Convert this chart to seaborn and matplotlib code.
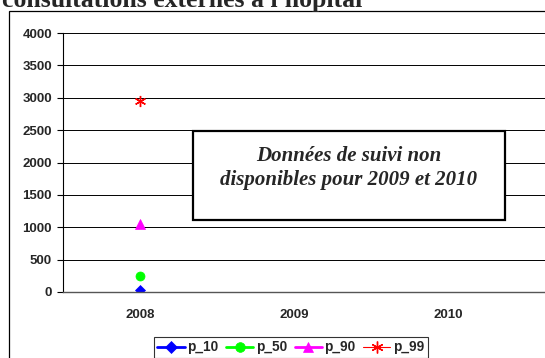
import matplotlib
matplotlib.use("Agg")
import matplotlib.pyplot as plt
from matplotlib.lines import Line2D
from matplotlib.patches import Rectangle
import numpy as np
import pandas as pd
import seaborn as sns

# Data: only 2008 is available, 2009 and 2010 have no follow-up values
years = ["2008", "2009", "2010"]
p_10 = [25, np.nan, np.nan]
p_50 = [250, np.nan, np.nan]
p_90 = [1045, np.nan, np.nan]
p_99 = [2955, np.nan, np.nan]
series_names = ["p_10", "p_50", "p_90", "p_99"]
y_ticks = [0, 500, 1000, 1500, 2000, 2500, 3000, 3500, 4000]

title_text = "consultations externes à l'hôpital"
note_text = "Données de suivi non\ndisponibles pour 2009 et 2010"

colors = {"p_10": "#0000ff", "p_50": "#00ff00", "p_90": "#ff00ff", "p_99": "#ff0000"}
markers = {"p_10": "D", "p_50": "o", "p_90": "^", "p_99": (6, 2, 0)}
msizes = {"p_10": 5.5, "p_50": 6.5, "p_90": 7, "p_99": 8}

df = pd.DataFrame({
    "pos": np.tile(np.arange(len(years)), 4),
    "value": p_10 + p_50 + p_90 + p_99,
    "serie": np.repeat(series_names, len(years)),
})

sns.set_style("white")
plt.rcParams["font.family"] = ["Liberation Sans", "DejaVu Sans"]

W, H = 545, 358
fig = plt.figure(figsize=(W / 100, H / 100), dpi=100)

# outer chart frame
fig.patches.append(Rectangle((9 / W, -0.2), 1.2, 1.2 - 11 / H,
                             transform=fig.transFigure, fill=False,
                             edgecolor="black", linewidth=0.9))

ax = fig.add_axes([63 / W, (H - 292) / H, (W - 63) / W, 259 / H])

for name in series_names:
    sub = df[df["serie"] == name]
    sns.lineplot(data=sub, x="pos", y="value", ax=ax, color=colors[name],
                 marker=markers[name], markersize=msizes[name],
                 markeredgecolor=colors[name], markeredgewidth=1.0 if name == "p_99" else 0.5,
                 linewidth=2, legend=False)

ax.set_xlim(-0.5, -0.5 + (W - 63) / 154)
ax.set_ylim(0, 4000)
ax.set_yticks(y_ticks)
ax.set_yticklabels([str(v) for v in y_ticks], fontsize=9.5, fontweight="bold")
ax.set_xticks(range(len(years)))
ax.set_xticklabels(years, fontsize=9.5, fontweight="bold")
ax.set_xticks([-0.5, 0.5, 1.5], minor=True)
ax.tick_params(axis="x", which="major", length=0, pad=12)
ax.tick_params(axis="x", which="minor", length=4, width=0.8, color="black", direction="out")
ax.tick_params(axis="y", length=4, width=0.8, color="black", direction="out", pad=4, left=True)
ax.set_xlabel("")
ax.set_ylabel("")
ax.yaxis.grid(True, color="black", linewidth=0.7)
ax.set_axisbelow(True)
for side in ["top", "right"]:
    ax.spines[side].set_visible(False)
ax.spines["left"].set_color("black")
ax.spines["left"].set_linewidth(0.8)
ax.spines["bottom"].set_color("#555555")
ax.spines["bottom"].set_linewidth(1.0)

# note box
fig.patches.append(Rectangle((193 / W, (H - 220) / H), 312 / W, 89 / H,
                             transform=fig.transFigure, facecolor="white",
                             edgecolor="black", linewidth=1.6, zorder=5))
fig.text(349 / W, (H - 168) / H, note_text, ha="center", va="center",
         family=["Liberation Serif", "DejaVu Serif"], fontstyle="italic",
         fontweight="bold", fontsize=15, linespacing=1.22, zorder=6)

# title, partly above the top edge
fig.text(2 / W, 1 - 7 / H, title_text, ha="left", va="baseline",
         family=["Liberation Serif", "DejaVu Serif"], fontweight="bold", fontsize=18.5)

handles = [Line2D([], [], color=colors[n], marker=markers[n], markersize=msizes[n] + 0.5,
                  markeredgecolor=colors[n], linewidth=2 if n != "p_99" else 0.8,
                  markeredgewidth=1.0 if n == "p_99" else 0.5)
           for n in series_names]
leg = fig.legend(handles, series_names, loc="upper left",
                 bbox_to_anchor=(154 / W, 1 - 337 / H), bbox_transform=fig.transFigure,
                 ncol=4, frameon=True, fancybox=False, borderaxespad=0,
                 prop={"weight": "bold", "size": 9.8}, handlelength=2.0,
                 handletextpad=0.2, columnspacing=0.55, borderpad=0.25)
leg.get_frame().set_edgecolor("black")
leg.get_frame().set_linewidth(0.8)

fig.savefig("out.png", dpi=100)
